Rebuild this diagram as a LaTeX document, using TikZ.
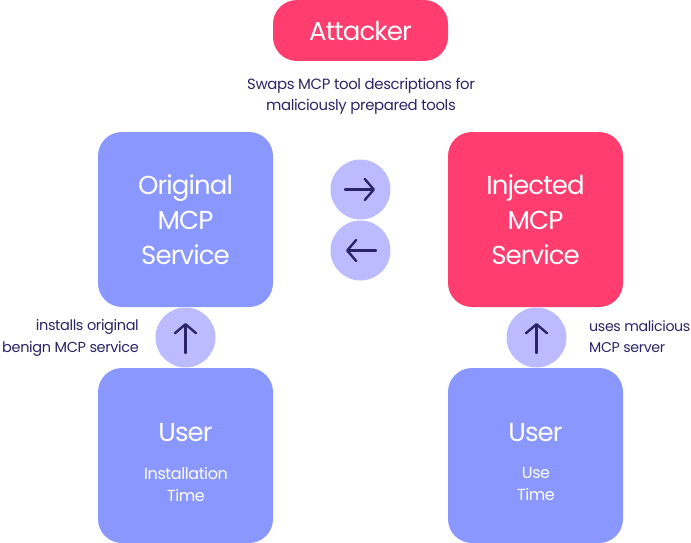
\documentclass[tikz,border=0pt]{standalone}
\usepackage{fontspec}
\setmainfont{Poppins}
\newfontfamily\bigface[LetterSpace=-3.5]{Poppins}
\newfontfamily\noteface[LetterSpace=-2.5]{Poppins}
\usepackage{tikz}
\usetikzlibrary{arrows.meta}
\definecolor{attackred}{HTML}{FF3D6E}
\definecolor{serviceblue}{HTML}{8A97FF}
\definecolor{badgeblue}{HTML}{BDBBFF}
\definecolor{inkblue}{HTML}{2A2466}
\begin{document}
\begin{tikzpicture}[
    x=1pt, y=-1pt,
    box/.style={rounded corners=24pt, minimum size=175pt, inner sep=0pt, align=center, text=white, font=\bigface\fontsize{26}{35}\selectfont},
    badge/.style={circle, fill=badgeblue, minimum size=60pt, inner sep=0pt},
    note/.style={text=inkblue, align=center, inner sep=0pt, font=\noteface\fontsize{14.5}{21.5}\selectfont},
    glyph/.style={draw=inkblue, line width=2.4pt, line cap=round, -{Straight Barb[length=9pt, width=21pt, line width=2.4pt, round]}}
]
    \useasboundingbox (0, 0) rectangle (691, 543);
    \node[fill=attackred, rounded corners=24pt, minimum width=175pt, minimum height=61pt, inner sep=0pt, text=white, font=\bigface\fontsize{26}{30}\selectfont] (attacker) at (360.5, 30.5) {Attacker};
    \node[box, fill=serviceblue] (original) at (185.5, 219.5) {Original\\MCP\\Service};
    \node[box, fill=attackred] (injected) at (535.5, 219.5) {Injected\\MCP\\Service};
    \node[box, fill=serviceblue] (user1) at (185.5, 455.5) {};
    \node[box, fill=serviceblue] (user2) at (535.5, 455.5) {};
    \node[text=white, inner sep=0pt, font=\bigface\fontsize{26}{30}\selectfont] (user1t) at (185.5, 432.5) {User};
    \node[text=white, inner sep=0pt, font=\bigface\fontsize{26}{30}\selectfont] (user2t) at (535.5, 432.5) {User};
    \node[text=white, align=center, inner sep=0pt, font=\noteface\fontsize{16}{22}\selectfont] (user1s) at (186, 484) {Installation\\Time};
    \node[text=white, align=center, inner sep=0pt, font=\noteface\fontsize{16}{22}\selectfont] (user2s) at (536, 484) {Use\\Time};
    \node[badge] (swap1) at (360.5, 189.5) {};
    \node[badge] (swap2) at (360.5, 250.5) {};
    \node[badge] (up1) at (185.5, 337.5) {};
    \node[badge] (up2) at (536.5, 337.5) {};
    \coordinate (s1a) at (345, 189.5);
    \coordinate (s1b) at (375, 189.5);
    \coordinate (s2a) at (376, 250.5);
    \coordinate (s2b) at (346, 250.5);
    \coordinate (u1a) at (185.5, 353);
    \coordinate (u1b) at (185.5, 323);
    \coordinate (u2a) at (536.5, 353);
    \coordinate (u2b) at (536.5, 323);
    \draw[glyph] (s1a) -- (s1b);
    \draw[glyph] (s2a) -- (s2b);
    \draw[glyph] (u1a) -- (u1b);
    \draw[glyph] (u2a) -- (u2b);
    \node[note, font=\noteface\fontsize{14.9}{21}\selectfont] (swapnote) at (361, 96.5) {Swaps MCP tool descriptions for\\maliciously prepared tools};
    \node[note, align=right, anchor=east] (installnote) at (139, 338) {installs original\\benign MCP service};
    \node[note, align=left, anchor=west, font=\noteface\fontsize{14.2}{21.5}\selectfont] (usenote) at (589, 336.5) {uses malicious\\MCP server};
\end{tikzpicture}
\end{document}
